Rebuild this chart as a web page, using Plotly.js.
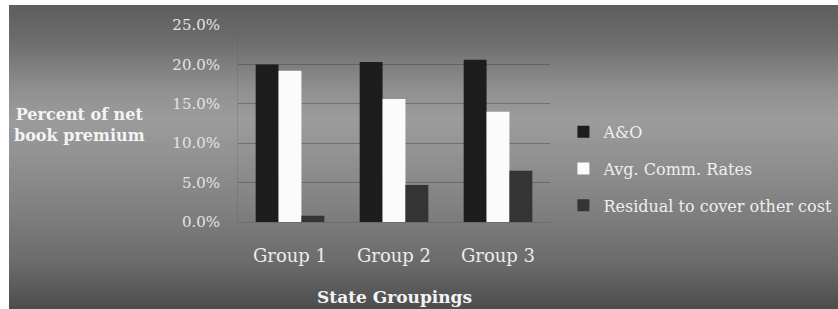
<!DOCTYPE html>
<html>
<head>
<meta charset="utf-8">
<script src="https://cdn.plot.ly/plotly-3.0.1.min.js"></script>
<style>
  html, body { margin: 0; padding: 0; background: #ffffff; width: 838px; height: 309px; overflow: hidden; }
  #bg { position: absolute; left: 9px; top: 5px; width: 829px; height: 304px;
        background: linear-gradient(to bottom, #5e5e5e 0px, #6c6c6c 35px, #909090 85px, #9c9c9c 115px, #929292 150px, #7e7e7e 210px, #6a6a6a 260px, #4c4c4c 304px); }
  #chart { position: absolute; left: 0; top: 0; width: 838px; height: 309px; }
</style>
</head>
<body>
<div id="bg"></div>
<div id="chart"></div>
<script>
const categories = ["Group 1", "Group 2", "Group 3"];
const seriesNames = ["A&O", "Avg. Comm. Rates", "Residual to cover other cost"];
const aoValues = [20.0, 20.3, 20.6];
const commValues = [19.2, 15.6, 14.0];
const residualValues = [0.8, 4.7, 6.5];
const yTickValues = [0, 5, 10, 15, 20, 25];
const yTickLabels = ["0.0%", "5.0%", "10.0%", "15.0%", "20.0%", "25.0%"];

const font = "DejaVu Serif, Liberation Serif, serif";
const colors = ["#1d1d1d", "#fbfbfb", "#343434"];
const allValues = [aoValues, commValues, residualValues];

const traces = allValues.map((vals, i) => ({
  type: "bar",
  x: categories,
  y: vals,
  name: seriesNames[i],
  legendgroup: "g" + i,
  marker: { color: colors[i], line: { width: 0 } },
  hoverinfo: "skip"
}));

const layout = {
  width: 838, height: 309,
  margin: { l: 238, r: 288, t: 25, b: 87, autoexpand: false },
  paper_bgcolor: "rgba(0,0,0,0)",
  plot_bgcolor: "rgba(0,0,0,0)",
  bargap: 0.34,
  bargroupgap: 0,
  font: { family: font, color: "#e8e8e8" },
  xaxis: {
    showgrid: false, zeroline: false, showline: false,
    tickfont: { family: font, size: 18, color: "#ececec" },
    ticks: "", ticklabelstandoff: 21
  },
  yaxis: {
    range: [0, 25],
    tickvals: yTickValues, ticktext: yTickLabels,
    tickfont: { family: font, size: 15, color: "#e4e4e4" },
    showgrid: true, gridcolor: "rgba(60,60,60,0.4)", gridwidth: 1,
    zeroline: true, zerolinecolor: "rgba(90,90,90,0.4)",
    showline: true, linecolor: "rgba(90,90,90,0.25)",
    ticks: "", ticklabelstandoff: 14
  },
  showlegend: true,
  legend: {
    x: 1.043, xanchor: "left", y: 0.27, yanchor: "middle",
    bgcolor: "rgba(0,0,0,0)",
    font: { family: font, size: 16, color: "#efefef" },
    tracegroupgap: 13,
    itemclick: false, itemdoubleclick: false
  },
  annotations: [
    { text: "<b>Percent of net<br>book premium</b>", xref: "paper", yref: "paper",
      x: (79 - 238) / 312, y: (222 - 125) / 197, xanchor: "center", yanchor: "middle",
      showarrow: false, align: "center",
      font: { family: font, size: 16, color: "#f4f4f4" } },
    { text: "<b>State Groupings</b>", xref: "paper", yref: "paper",
      x: (394 - 238) / 312, y: -(297 - 222) / 197, xanchor: "center", yanchor: "middle",
      showarrow: false,
      font: { family: font, size: 17, color: "#f4f4f4" } }
  ]
};

Plotly.newPlot("chart", traces, layout, { displayModeBar: false, staticPlot: true });
</script>
</body>
</html>
